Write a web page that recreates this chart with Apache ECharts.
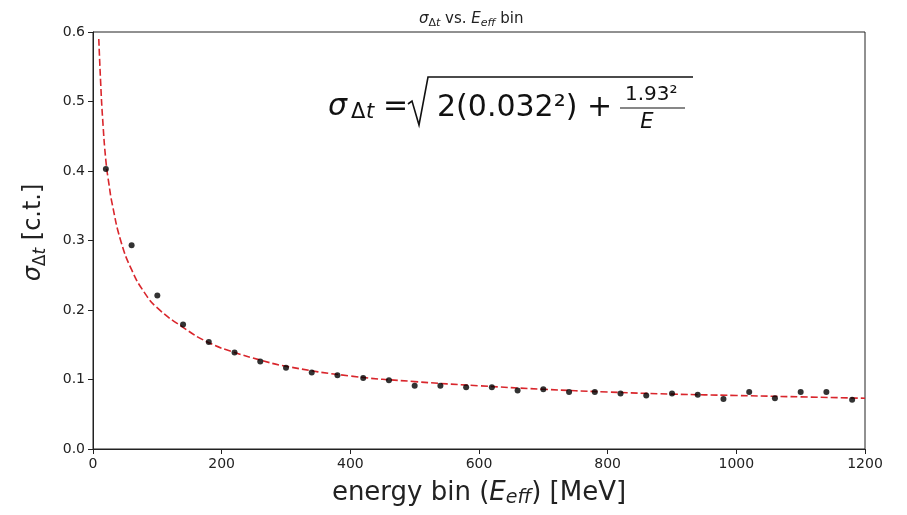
<!DOCTYPE html>
<html>
<head>
<meta charset="utf-8">
<script src="https://cdn.jsdelivr.net/npm/echarts@6/dist/echarts.min.js"></script>
<style>html,body{margin:0;padding:0;background:#fff;}#c{width:907px;height:515px;}</style>
</head>
<body>
<div id="c"></div>
<script>
// measured points
var binEnergy = [20,60,100,140,180,220,260,300,340,380,420,460,500,540,580,620,660,700,740,780,820,860,900,940,980,1020,1060,1100,1140,1180];
var sigmaValues = [0.403,0.293,0.221,0.179,0.154,0.139,0.126,0.117,0.110,0.106,0.102,0.099,0.091,0.091,0.089,0.089,0.084,0.086,0.082,0.082,0.080,0.077,0.080,0.078,0.072,0.082,0.073,0.082,0.082,0.071];
// fit curve
var fitEnergy = [9,12,15,20,25,30,43,60,80,100,140,180,220,260,300,400,500,600,700,800,900,1000,1100,1200];
var fitValues = [0.59,0.525,0.475,0.415,0.38,0.352,0.30,0.258,0.225,0.203,0.175,0.153,0.139,0.128,0.119,0.105,0.097,0.091,0.086,0.082,0.079,0.077,0.075,0.073];
var xTicks = [0,200,400,600,800,1000,1200];
var yTicks = [0.0,0.1,0.2,0.3,0.4,0.5,0.6];

var FONT = 'DejaVu Sans';
var chart = echarts.init(document.getElementById('c'), null, {renderer:'canvas'});
var pts = binEnergy.map(function(e,i){return [e, sigmaValues[i]];});
var fit = fitEnergy.map(function(e,i){return [e, fitValues[i]];});

var axisCommon = {
  axisLine:{show:true, lineStyle:{color:'#222', width:1}},
  axisTick:{show:true, inside:false, length:5, lineStyle:{color:'#222'}},
  splitLine:{show:false}
};

chart.setOption({
  animation:false,
  backgroundColor:'#fff',
  grid:{left:93, right:42, top:32, bottom:66, show:true, borderColor:'#222', borderWidth:1, backgroundColor:'transparent'},
  title:{
    text:'{i|σ}{s|Δ}{si|t}{n| vs. }{i|E}{si|eff}{n| bin}',
    left:414, top:5,
    textStyle:{fontWeight:'normal', rich:{
      i:{fontFamily:FONT, fontStyle:'italic', fontWeight:'normal', fontSize:15, color:'#222', lineHeight:19},
      n:{fontFamily:FONT, fontWeight:'normal', fontSize:15, color:'#222', lineHeight:19},
      s:{fontFamily:FONT, fontWeight:'normal', fontSize:11, color:'#222', lineHeight:19, verticalAlign:'bottom', padding:[5,0,0,0]},
      si:{fontFamily:FONT, fontStyle:'italic', fontWeight:'normal', fontSize:11, color:'#222', lineHeight:19, verticalAlign:'bottom', padding:[5,0,0,0]}
    }}
  },
  xAxis:Object.assign({}, axisCommon, {
    type:'value', min:0, max:1200, interval:200,
    name:'{n|energy bin (}{i|E}{si|eff}{n|) [MeV]}',
    nameLocation:'middle', nameGap:29,
    nameTextStyle:{rich:{
      n:{fontFamily:FONT, fontSize:26, color:'#222', lineHeight:30},
      i:{fontFamily:FONT, fontStyle:'italic', fontSize:26, color:'#222', lineHeight:30},
      si:{fontFamily:FONT, fontStyle:'italic', fontSize:19, color:'#222', lineHeight:30, verticalAlign:'bottom', padding:[9,0,0,0]}
    }},
    axisLabel:{color:'#222', fontFamily:FONT, fontSize:14, margin:8, formatter:function(v){return String(v);}}
  }),
  yAxis:Object.assign({}, axisCommon, {
    type:'value', min:0, max:0.6, interval:0.1,
    name:'{i|σ}{s|Δ}{si|t}{n| [c.t.]}',
    nameLocation:'middle', nameGap:44, nameRotate:90,
    nameTextStyle:{padding:[0,0,0,16], rich:{
      n:{fontFamily:FONT, fontSize:24, color:'#222', lineHeight:30},
      i:{fontFamily:FONT, fontStyle:'italic', fontSize:24, color:'#222', lineHeight:30},
      s:{fontFamily:FONT, fontSize:17, color:'#222', lineHeight:30, verticalAlign:'bottom', padding:[7,0,0,0]},
      si:{fontFamily:FONT, fontStyle:'italic', fontSize:17, color:'#222', lineHeight:30, verticalAlign:'bottom', padding:[7,0,0,0]}
    }},
    axisLabel:{color:'#222', fontFamily:FONT, fontSize:14, margin:8, formatter:function(v){return v.toFixed(1);}}
  }),
  series:[
    {type:'line', data:fit, showSymbol:false, smooth:0.5, clip:true,
     lineStyle:{color:'#d9262c', width:1.6, type:[7,3]}, z:2},
    {type:'scatter', data:pts, symbol:'circle', symbolSize:6, itemStyle:{color:'#000'}, z:3}
  ],
  graphic:[
    {type:'text', x:328, y:107, style:{text:'σ', font:'italic 30px "DejaVu Sans"', fill:'#111', textVerticalAlign:'middle'}},
    {type:'text', x:351, y:113, style:{text:'Δ', font:'21px "DejaVu Sans"', fill:'#111', textVerticalAlign:'middle'}},
    {type:'text', x:366, y:113, style:{text:'t', font:'italic 21px "DejaVu Sans"', fill:'#111', textVerticalAlign:'middle'}},
    {type:'text', x:383, y:107, style:{text:'=', font:'30px "DejaVu Sans"', fill:'#111', textVerticalAlign:'middle'}},
    {type:'polyline', shape:{points:[[408,104],[412,101],[419,125],[428,77],[693,77]]}, style:{stroke:'#111', lineWidth:1.6, fill:null}},
    {type:'text', x:437, y:108, style:{text:'2(0.032²) +', font:'30px "DejaVu Sans"', fill:'#111', textVerticalAlign:'middle'}},
    {type:'text', x:625, y:95, style:{text:'1.93²', font:'20px "DejaVu Sans"', fill:'#111', textVerticalAlign:'middle'}},
    {type:'line', shape:{x1:620, y1:108, x2:685, y2:108}, style:{stroke:'#111', lineWidth:1.2}},
    {type:'text', x:647, y:123, style:{text:'E', font:'italic 21px "DejaVu Sans"', fill:'#111', textVerticalAlign:'middle', textAlign:'center'}}
  ]
});
</script>
</body>
</html>
